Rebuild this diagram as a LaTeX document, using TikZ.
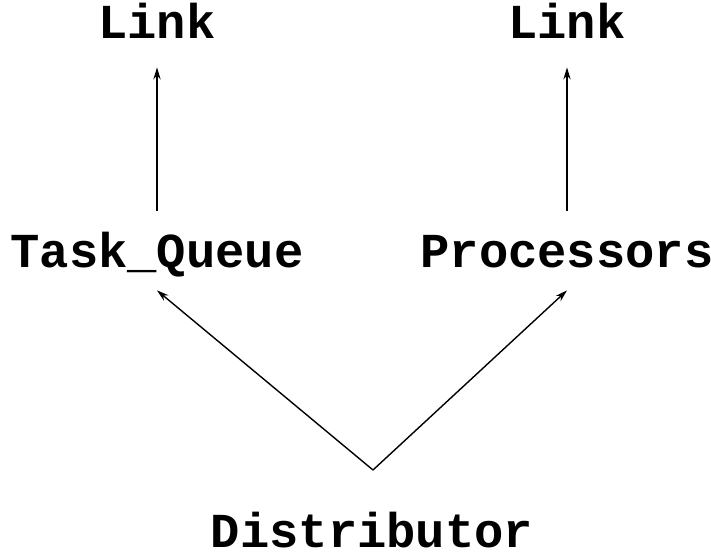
\documentclass[tikz,border=0pt]{standalone}
\usepackage{fontspec}
\usepackage{tikz}
\usetikzlibrary{arrows.meta}
\newfontfamily\codefont{Liberation Mono}

\begin{document}
\begin{tikzpicture}[x=0.5bp, y=-0.5bp,
  lbl/.style={font=\codefont\bfseries\fontsize{24.5}{29}\selectfont, inner sep=0pt,
    text height=28.5bp, text depth=11bp, anchor=base},
  arr/.style={-{Stealth[length=6bp,width=3.6bp]}, line width=0.7bp}]
\useasboundingbox (0,0) rectangle (711,555);
\node[lbl] (linkq) at (157,39) {Link};
\node[lbl] (linkp) at (567,39) {Link};
\node[lbl] (queue) at (157,268) {Task\_Queue};
\node[lbl] (procs) at (567,268) {Processors};
\node[lbl, text depth=0pt] (dist) at (372,547) {Distributor};
\coordinate (split) at (373,470);
\draw[arr, shorten >=3bp] (queue.north) -- (linkq.south);
\draw[arr, shorten >=3bp] (procs.north) -- (linkp.south);
\draw[arr] (split) -- (queue.south);
\draw[arr] (split) -- (procs.south);
\end{tikzpicture}
\end{document}
